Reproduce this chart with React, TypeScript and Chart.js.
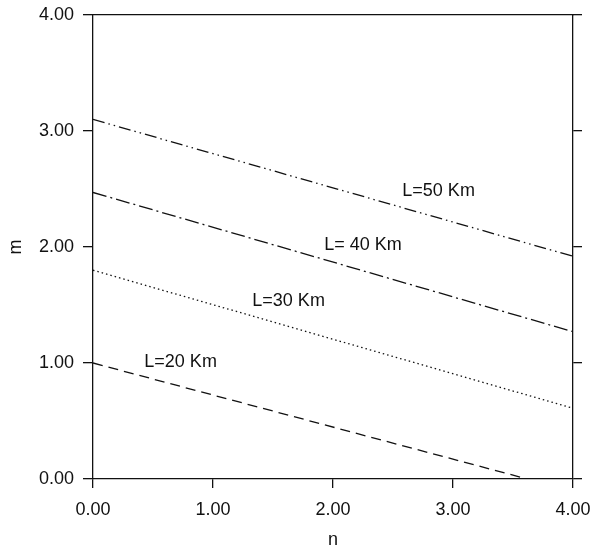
import React, { useEffect, useRef } from "react";
import { Chart, registerables } from "chart.js";

Chart.register(...registerables);

// Data
const nTicks = [0, 1, 2, 3, 4];
const mTicks = [0, 1, 2, 3, 4];

const L50x = [0, 4];
const L50y = [3.1, 1.92];
const L40x = [0, 4];
const L40y = [2.47, 1.27];
const L30x = [0, 4];
const L30y = [1.8, 0.61];
const L20x = [0, 3.62];
const L20y = [1.0, 0.0];

const labelTexts = ["L=50 Km", "L= 40 Km", "L=30 Km", "L=20 Km"];
const labelX = [2.88, 2.25, 1.63, 0.73];
const labelY = [2.48, 2.02, 1.53, 1.01];

const FONT = "'Liberation Sans', Arial, Helvetica, sans-serif";
const INK = "#111111";

function pts(xs: number[], ys: number[]) {
  return xs.map((x, i) => ({ x, y: ys[i] }));
}

const labelPlugin = {
  id: "curveLabels",
  afterDatasetsDraw(chart: any) {
    const { ctx, scales } = chart;
    ctx.save();
    ctx.fillStyle = INK;
    ctx.font = `18px ${FONT}`;
    ctx.textAlign = "center";
    ctx.textBaseline = "middle";
    labelTexts.forEach((t, i) => {
      ctx.fillText(t, scales.x.getPixelForValue(labelX[i]), scales.y.getPixelForValue(labelY[i]));
    });
    ctx.restore();
  },
};

function fix(size: { width?: number; height?: number }) {
  return (s: any) => {
    if (size.width !== undefined) s.width = size.width;
    if (size.height !== undefined) s.height = size.height;
    s.paddingLeft = 0;
    s.paddingRight = 0;
    s.paddingTop = 0;
    s.paddingBottom = 0;
  };
}

export default function App() {
  const ref = useRef<HTMLCanvasElement | null>(null);

  useEffect(() => {
    document.body.style.margin = "0";
    const canvas = ref.current;
    if (!canvas) return;
    const base = {
      fill: false,
      pointRadius: 0,
      borderColor: INK,
      borderWidth: 1.3,
      tension: 0,
    };
    const chart = new Chart(canvas, {
      type: "line",
      data: {
        datasets: [
          { ...base, label: labelTexts[0], data: pts(L50x, L50y), borderDash: [12, 4, 1.5, 4, 1.5, 4] },
          { ...base, label: labelTexts[1], data: pts(L40x, L40y), borderDash: [14, 4, 2, 4] },
          { ...base, label: labelTexts[2], data: pts(L30x, L30y), borderDash: [1.5, 3] },
          { ...base, label: labelTexts[3], data: pts(L20x, L20y), borderDash: [10, 6] },
        ],
      },
      options: {
        responsive: false,
        animation: false,
        layout: { padding: 0 },
        plugins: { legend: { display: false }, tooltip: { enabled: false } },
        scales: {
          x: {
            type: "linear",
            position: "bottom",
            min: 0,
            max: 4,
            afterFit: fix({ height: 69 }),
            afterBuildTicks: (s: any) => { s.ticks = nTicks.map((v) => ({ value: v })); },
            ticks: {
              color: INK,
              font: { family: FONT, size: 18 },
              padding: 11,
              maxRotation: 0,
              callback: (v: any) => Number(v).toFixed(2),
            },
            grid: { drawOnChartArea: false, drawTicks: true, tickLength: 9, color: INK, lineWidth: 1.3 },
            border: { display: true, color: INK, width: 1.3 },
            title: {
              display: true,
              text: "n",
              color: INK,
              font: { family: FONT, size: 18, lineHeight: 0.85 },
              padding: { top: 0, bottom: 0 },
            },
          },
          x2: {
            type: "linear",
            position: "top",
            min: 0,
            max: 4,
            afterFit: fix({ height: 15 }),
            ticks: { display: false },
            grid: { display: false, drawTicks: false },
            border: { display: true, color: INK, width: 1.3 },
          },
          y: {
            type: "linear",
            position: "left",
            min: 0,
            max: 4,
            afterFit: fix({ width: 93 }),
            afterBuildTicks: (s: any) => { s.ticks = mTicks.map((v) => ({ value: v })); },
            ticks: {
              color: INK,
              font: { family: FONT, size: 18 },
              padding: 9,
              callback: (v: any) => Number(v).toFixed(2),
            },
            grid: { drawOnChartArea: false, drawTicks: true, tickLength: 10, color: INK, lineWidth: 1.3 },
            border: { display: true, color: INK, width: 1.3 },
            title: {
              display: true,
              text: "m",
              color: INK,
              font: { family: FONT, size: 18, lineHeight: 1 },
              padding: { top: 7, bottom: 0 },
            },
          },
          y2: {
            type: "linear",
            position: "right",
            min: 0,
            max: 4,
            afterFit: fix({ width: 20 }),
            afterBuildTicks: (s: any) => { s.ticks = mTicks.map((v) => ({ value: v })); },
            ticks: { display: true, callback: () => "", padding: 0 },
            grid: { drawOnChartArea: false, drawTicks: true, tickLength: 9, color: INK, lineWidth: 1.3 },
            border: { display: true, color: INK, width: 1.3 },
          },
        },
      },
      plugins: [labelPlugin],
    } as any);
    return () => chart.destroy();
  }, []);

  return <canvas ref={ref} width={593} height={548} style={{ display: "block" }} />;
}
